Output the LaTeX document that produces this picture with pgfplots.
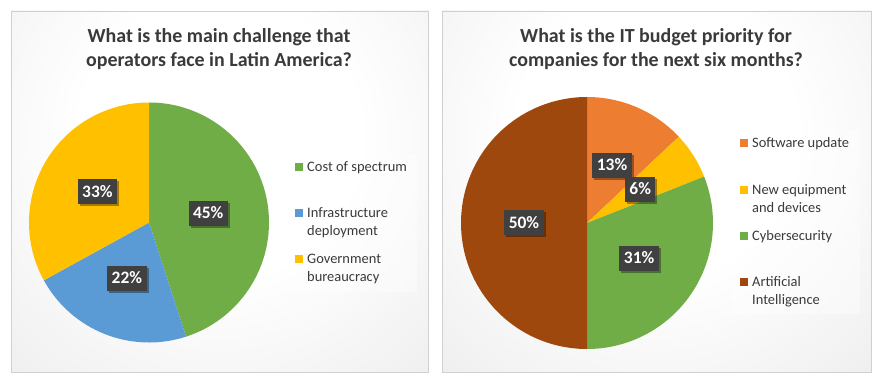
\documentclass[border=0pt]{standalone}
\usepackage{pgfplots}
\pgfplotsset{compat=1.18}
\usepackage{pgfplotstable}
\usepackage{fontspec}
\setmainfont{Carlito}
\usetikzlibrary{shadows}

\definecolor{cGreen}{HTML}{70AD47}
\definecolor{cBlue}{HTML}{5B9BD5}
\definecolor{cYellow}{HTML}{FFC000}
\definecolor{cOrange}{HTML}{ED7D31}
\definecolor{cBrown}{HTML}{9E480E}
\definecolor{txt}{HTML}{3A3A3A}
\definecolor{lblfill}{HTML}{404040}
\definecolor{panelborder}{HTML}{D0D0D0}
\definecolor{gA}{HTML}{FFFFFF}
\definecolor{gA2}{HTML}{F0F0F0}
\definecolor{gB}{HTML}{DCDCDC}
\definecolor{gC}{HTML}{C3C3C3}
\definecolor{gD}{HTML}{B5B5B5}

\pgfdeclareradialshading{panelshade}{\pgfpoint{0bp}{0bp}}{%
  color(0bp)=(gA); color(10bp)=(gA); color(22bp)=(gA2); color(33bp)=(gB); color(44bp)=(gC); color(50bp)=(gD)}

\pgfplotstableread{
value color
45 cGreen
22 cBlue
33 cYellow
}\tblA

\pgfplotstableread{
value color
13 cOrange
6 cYellow
31 cGreen
50 cBrown
}\tblB

\tikzset{
  lbl/.style={fill=lblfill, text=white, font=\bfseries\fontsize{17.5}{19}\selectfont,
    inner xsep=4.5bp, inner ysep=0pt, minimum height=25bp, text height=11.5bp, text depth=1bp,
    drop shadow={shadow xshift=2bp, shadow yshift=-2bp, opacity=0.35, fill=black}},
  legtxt/.style={anchor=base west, inner sep=0pt, text=txt, font=\fontsize{14.5}{17}\selectfont},
  ttl/.style={align=center, text=txt, font=\bfseries\fontsize{20}{24}\selectfont}
}

% draw a pie from a table (columns value, color) with radius #2 (axis units = bp)
\newcommand\drawpie[2]{%
  \pgfplotstablegetrowsof{#1}\pgfmathtruncatemacro\nlast{\pgfplotsretval-1}%
  \def\cum{0}%
  \pgfplotsforeachungrouped \i in {0,...,\nlast}{%
    \pgfplotstablegetelem{\i}{value}\of{#1}\let\val\pgfplotsretval
    \pgfplotstablegetelem{\i}{color}\of{#1}\let\col\pgfplotsretval
    \pgfmathsetmacro\aS{90-3.6*\cum}%
    \pgfmathsetmacro\aE{90-3.6*(\cum+\val)}%
    \pgfmathsetmacro\xs{#2*cos(\aS)}%
    \pgfmathsetmacro\ys{#2*sin(\aS)}%
    \edef\temp{\noexpand\fill[\col] (axis cs:0,0) -- (axis cs:\xs,\ys) arc[start angle=\aS, end angle=\aE, radius=#2bp] -- cycle;}%
    \temp
    \pgfmathsetmacro\cum{\cum+\val}%
  }%
  \def\cum{0}%
  \pgfplotsforeachungrouped \i in {0,...,\nlast}{%
    \pgfplotstablegetelem{\i}{value}\of{#1}\let\val\pgfplotsretval
    \pgfmathsetmacro\aM{90-3.6*(\cum+\val/2)}%
    \pgfmathsetmacro\xl{0.5*#2*cos(\aM)}%
    \pgfmathsetmacro\yl{0.5*#2*sin(\aM)}%
    \edef\temp{\noexpand\node[lbl] at (axis cs:\xl,\yl) {\val\noexpand\%};}%
    \temp
    \pgfmathsetmacro\cum{\cum+\val}%
  }%
}

\begin{document}
\begin{tikzpicture}
\useasboundingbox (0,0) rectangle (883bp,383bp);

\begin{scope}[x=1bp, y=-1bp, shift={(0bp,383bp)}]
  % left panel
  \begin{scope}
    \clip (11,11) rectangle (428,372);
    \shade[shading=panelshade] (-130.5,-213) rectangle (569.5,487);
  \end{scope}
  \draw[panelborder, line width=0.8bp] (11,11) rectangle (428,372);
  % right panel
  \begin{scope}
    \clip (442,11) rectangle (871,372);
    \shade[shading=panelshade] (306.5,-213) rectangle (1006.5,487);
  \end{scope}
  \draw[panelborder, line width=0.8bp] (442,11) rectangle (871,372);

  % titles
  \node[ttl] at (219,49) {What is the main challenge that\\operators face in Latin America?};
  \node[ttl] at (656,49) {What is the IT budget priority for\\companies for the next six months?};

  % left legend
  \fill[white, fill opacity=0.4] (287,154) rectangle (417,292);
  \fill[cGreen]  (295,163) rectangle (303,171);
  \fill[cBlue]   (295,209.5) rectangle (303,217.5);
  \fill[cYellow] (295,255) rectangle (303,263);
  \node[legtxt] at (307,171.5) {Cost of spectrum};
  \node[legtxt] at (307,218) {Infrastructure};
  \node[legtxt] at (307,236) {deployment};
  \node[legtxt] at (307,263.5) {Government};
  \node[legtxt] at (307,281.5) {bureaucracy};

  % right legend
  \fill[white, fill opacity=0.4] (732,130) rectangle (860,314);
  \fill[cOrange] (740,139) rectangle (748,147);
  \fill[cYellow] (740,186.5) rectangle (748,194.5);
  \fill[cGreen]  (740,232) rectangle (748,240);
  \fill[cBrown]  (740,278) rectangle (748,286);
  \node[legtxt] at (752,147.5) {Software update};
  \node[legtxt] at (752,195) {New equipment};
  \node[legtxt] at (752,213) {and devices};
  \node[legtxt] at (752,240.5) {Cybersecurity};
  \node[legtxt] at (752,286.5) {Artificial};
  \node[legtxt] at (752,304.5) {Intelligence};
\end{scope}

\begin{axis}[at={(149bp,160.5bp)}, anchor=center, scale only axis,
  width=300bp, height=300bp, xmin=-150, xmax=150, ymin=-150, ymax=150,
  hide axis, clip=false]
  \drawpie{\tblA}{120}
\end{axis}

\begin{axis}[at={(587bp,160bp)}, anchor=center, scale only axis,
  width=300bp, height=300bp, xmin=-150, xmax=150, ymin=-150, ymax=150,
  hide axis, clip=false]
  \drawpie{\tblB}{126}
\end{axis}
\end{tikzpicture}
\end{document}
